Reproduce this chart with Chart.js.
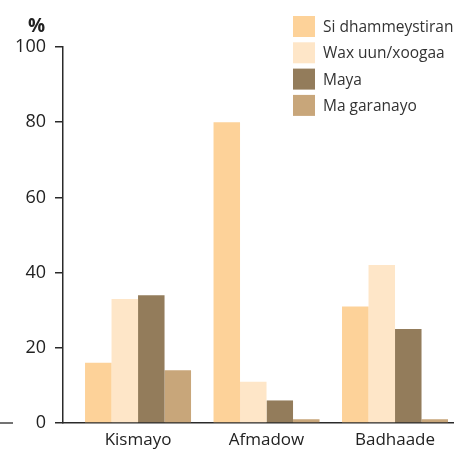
<!DOCTYPE html>
<html>
<head>
<meta charset="utf-8">
<script src="https://cdn.jsdelivr.net/npm/chart.js@4/dist/chart.umd.min.js"></script>
<style>
html,body{margin:0;padding:0;background:#fff;}
canvas{display:block;}
</style>
</head>
<body>
<canvas id="c" width="454" height="453"></canvas>
<script>
// ---- Data ----
const categories = ['Kismayo', 'Afmadow', 'Badhaade'];
const seriesLabels = ['Si dhammeystiran', 'Wax uun/xoogaa', 'Maya', 'Ma garanayo'];
const siDhammeystiran = [16, 80, 31];
const waxUunXoogaa = [33, 11, 42];
const maya = [34, 6, 25];
const maGaranayo = [14, 1, 1];
const yTickValues = [0, 20, 40, 60, 80, 100];
const yUnit = '%';

const seriesValues = [siDhammeystiran, waxUunXoogaa, maya, maGaranayo];
const colors = ['#FDD299', '#FEE6C8', '#937C5B', '#C8A67A'];

const FONT = "'Open Sans', 'Noto Sans', sans-serif";
const TEXT = '#222222';
const AXIS = '#2a2a2a';

const datasets = seriesValues.map((vals, si) => ({
  label: seriesLabels[si],
  data: vals.map((v, i) => ({x: i, y: v})),
  backgroundColor: colors[si],
  borderWidth: 0,
  categoryPercentage: 0.825,
  barPercentage: 1.0
}));

const extras = {
  id: 'extras',
  afterDraw(chart) {
    const ctx = chart.ctx;
    const y = chart.scales.y;
    ctx.save();
    // unit label above y axis
    ctx.fillStyle = TEXT;
    ctx.font = "bold 19px " + FONT;
    ctx.textAlign = 'right';
    ctx.textBaseline = 'alphabetic';
    ctx.fillText(yUnit, 45, 32);
    // small stray baseline stub at far left
    const y0 = y.getPixelForValue(0);
    ctx.strokeStyle = '#444';
    ctx.lineWidth = 1.5;
    ctx.beginPath();
    ctx.moveTo(0, y0);
    ctx.lineTo(13, y0);
    ctx.stroke();
    // legend
    const bx = 293, by = 16, bw = 22, bh = 21, step = 26.3;
    ctx.font = "15.5px " + FONT;
    ctx.textAlign = 'left';
    ctx.textBaseline = 'middle';
    chart.data.datasets.forEach((ds, i) => {
      const top = by + i * step;
      ctx.fillStyle = ds.backgroundColor;
      ctx.fillRect(bx, top, bw, bh);
      ctx.fillStyle = '#333';
      ctx.fillText(ds.label, 323, top + bh / 2 + 1);
    });
    ctx.restore();
  }
};

new Chart(document.getElementById('c'), {
  type: 'bar',
  data: { datasets },
  options: {
    responsive: false,
    animation: false,
    layout: { padding: { top: 47, left: 0, right: 0, bottom: 0 } },
    plugins: { legend: { display: false }, tooltip: { enabled: false } },
    scales: {
      x: {
        type: 'linear',
        offset: false,
        min: -0.584,
        max: 2.459,
        grid: { display: true, offset: false, drawOnChartArea: false, drawTicks: false },
        border: { display: true, color: AXIS, width: 1.5 },
        afterBuildTicks(scale) { scale.ticks = categories.map((c, i) => ({ value: i })); },
        afterFit(scale) { scale.height = 30; },
        ticks: {
          autoSkip: false,
          maxRotation: 0,
          padding: 7,
          color: TEXT,
          font: { family: FONT, size: 17 },
          callback: (v) => categories[v]
        }
      },
      y: {
        min: 0,
        max: 100,
        afterBuildTicks(scale) { scale.ticks = yTickValues.map(v => ({ value: v })); },
        afterFit(scale) { scale.width = 63; },
        grid: { display: true, drawOnChartArea: false, drawTicks: true, tickLength: 8, color: AXIS, lineWidth: 1.5 },
        border: { display: true, color: AXIS, width: 1.5 },
        ticks: {
          padding: 9,
          color: TEXT,
          font: { family: FONT, size: 18 }
        }
      }
    }
  },
  plugins: [extras]
});
</script>
</body>
</html>
